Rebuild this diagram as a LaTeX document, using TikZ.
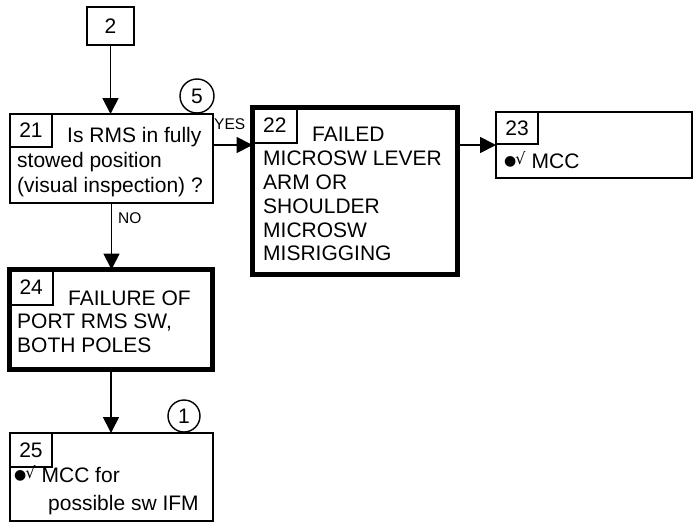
\documentclass[tikz,border=0pt]{standalone}
\usepackage{fontspec}
\setmainfont{Liberation Sans}
\newfontfamily\symfnt{DejaVu Sans}
\usetikzlibrary{arrows.meta}
\newcommand{\bulchk}{\raisebox{2.5pt}{\symfnt\fontsize{14}{14}\selectfont ●}\hspace{-1pt}\raisebox{3.5pt}{\symfnt\fontsize{16}{16}\selectfont √}\hspace{6pt}}
\begin{document}
\begin{tikzpicture}[x=1pt,y=-1pt,
  thinbox/.style={draw, line width=1.8pt, inner sep=0, outer sep=0, font=\fontsize{21}{24}\selectfont},
  thickbox/.style={draw, line width=5.5pt, inner sep=0, outer sep=0},
  subbox/.style={thinbox, anchor=north west},
  circ/.style={draw, circle, line width=1.4pt, inner sep=0, font=\fontsize{21}{24}\selectfont},
  txt/.style={anchor=base west, inner sep=0, font=\fontsize{21}{24}\selectfont},
  lbl/.style={anchor=base west, inner sep=0, font=\fontsize{15.5}{18}\selectfont},
  arr/.style={line width=1.8pt, -{Triangle[length=16pt,width=16pt]}}
]
\useasboundingbox (0,0) rectangle (693,525);

% boxes
\node[thinbox, minimum width=47, minimum height=38] (n2) at (110.5,26) {2};
\node[thinbox, minimum width=203, minimum height=89] (b21) at (111.5,158.5) {};
\node[subbox, minimum width=42, minimum height=33] (s21) at (b21.north west) {21};
\node[circ, minimum size=34] (c5) at (197,96) {5};

\node[thickbox, minimum width=205, minimum height=167] (b22) at (355,191) {};
\node[subbox, minimum width=44.5, minimum height=35.5] (s22) at (b22.north west) {22};

\node[thinbox, minimum width=196, minimum height=66] (b23) at (594,145) {};
\node[subbox, minimum width=42, minimum height=32] (s23) at (b23.north west) {23};

\node[thickbox, minimum width=203, minimum height=100] (b24) at (111,319.5) {};
\node[subbox, minimum width=43.5, minimum height=35.5] (s24) at (b24.north west) {24};

\node[thinbox, minimum width=203, minimum height=88] (b25) at (111.5,477) {};
\node[subbox, minimum width=42, minimum height=34] (s25) at (b25.north west) {25};
\node[circ, minimum size=32] (c1) at (184,416) {1};

% texts
\node[txt] (t21a) at (67,142) {Is RMS in fully};
\node[txt] (t21b) at (17,167) {stowed position};
\node[txt] (t21c) at (17,192) {(visual inspection) ?};

\node[txt] (t22a) at (312,141) {FAILED};
\node[txt] (t22b) at (263,165) {MICROSW LEVER};
\node[txt] (t22c) at (263,189) {ARM OR};
\node[txt] (t22d) at (263,213) {SHOULDER};
\node[txt] (t22e) at (263,237) {MICROSW};
\node[txt] (t22f) at (263,260) {MISRIGGING};

\node[txt] (t23) at (504,168) {\bulchk MCC};

\node[txt] (t24a) at (68,305) {FAILURE OF};
\node[txt] (t24b) at (17,328) {PORT RMS SW,};
\node[txt] (t24c) at (17,352) {BOTH POLES};

\node[txt] (t25a) at (14,482) {\bulchk MCC for};
\node[txt] (t25b) at (48,510) {possible sw IFM};

\node[lbl] (yes) at (214,129) {YES};
\node[lbl] (no) at (118,223) {NO};

% connectors
\coordinate (y145) at (0,145);
\draw[arr] (n2.south) -- (n2.south |- b21.north);
\draw[arr] (b21.east |- y145) -- (b22.west |- y145);
\draw[arr] (b22.east |- y145) -- (b23.west);
\draw[arr] (b21.south) -- (b21.south |- b24.north);
\draw[arr] (b24.south) -- (b24.south |- b25.north);
\end{tikzpicture}
\end{document}
